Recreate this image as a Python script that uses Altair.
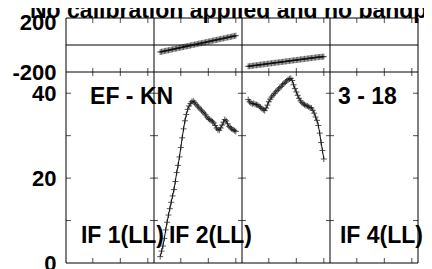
import altair as alt
import pandas as pd

# ---------------- data ----------------
channels = list(range(5, 61))  # channels plotted in IF 2 and IF 3 (64 channels per IF)

if2_amp = [1.5, 2.8, 4.0, 5.8, 7.8, 9.6, 11.3, 12.8,
           14.3, 15.8, 17.3, 19.2, 21.3, 23.0, 25.0, 27.2,
           29.5, 31.6, 33.5, 35.0, 36.2, 37.0, 37.6, 38.0,
           38.2, 37.8, 37.4, 37.0, 36.7, 36.3, 36.0, 35.6,
           35.3, 34.9, 34.4, 34.0, 33.8, 33.6, 33.3, 33.0,
           32.4, 31.8, 31.4, 31.3, 31.8, 32.5, 33.2, 33.8,
           33.5, 32.8, 32.2, 31.9, 31.6, 31.4, 31.2, 31.0]
if3_amp = [38.5, 38.0, 37.7, 37.5, 37.6, 37.4, 37.3, 37.2,
           36.9, 36.7, 36.4, 36.1, 35.9, 36.5, 37.2, 38.0,
           38.6, 39.1, 39.5, 39.9, 40.3, 40.6, 41.0, 41.3,
           41.6, 42.0, 42.3, 42.6, 42.9, 43.2, 43.4, 43.5,
           43.0, 42.0, 41.1, 40.3, 39.5, 38.8, 38.2, 37.8,
           37.5, 37.3, 37.1, 37.0, 36.8, 36.6, 36.5, 36.0,
           35.3, 34.4, 33.6, 32.4, 30.6, 28.4, 26.5, 24.5]
if2_phase = [-52, -50, -48, -45, -43, -41, -39, -37,
             -34, -32, -30, -28, -26, -23, -21, -19,
             -17, -15, -12, -10, -8, -6, -4, -1,
             1, 3, 5, 7, 10, 12, 14, 16,
             18, 21, 23, 25, 27, 29, 32, 34,
             36, 38, 40, 43, 45, 47, 49, 51,
             54, 56, 58, 60, 62, 65, 67, 69]
if3_phase = [-158, -157, -155, -154, -153, -151, -150, -149,
             -147, -146, -145, -143, -142, -141, -139, -138,
             -137, -135, -134, -133, -131, -130, -129, -127,
             -126, -125, -123, -122, -121, -119, -118, -117,
             -115, -114, -113, -111, -110, -109, -107, -106,
             -105, -103, -102, -101, -99, -98, -97, -95,
             -94, -93, -91, -90, -89, -88, -87, -86]

n_chan = 64
n_if = 4
if_bounds = [0.5 + i * n_chan for i in range(n_if + 1)]
chan_ticks = [20, 40, 60]
phase_labels = [200, -200]
amp_labels = [0, 20, 40]
amp_ticks = [10, 20, 30, 40]
title_text = "No calibration applied and no bandpass applied"
corner_labels = ["EF - KN", "3 - 18"]
corner_pos = [18, 198.3]
if_label_text = ["IF 1(LL)", "IF 2(LL)"]
if_label_if = [1, 2]
last_label_text = ["IF 4(LL)"]
last_label_if = [4]

# ---------------- tables ----------------
rows = []
for ifn, amps, phs in [(2, if2_amp, if2_phase), (3, if3_amp, if3_phase)]:
    for c, a, p in zip(channels, amps, phs):
        rows.append({"IF": ifn, "pos": (ifn - 1) * n_chan + c, "amp": a, "phase": p})
df = pd.DataFrame(rows)

FONT = "Liberation Sans"
FS = 23
W, H = 352, 245
TOP_H = 54
xs = alt.Scale(domain=[if_bounds[0], if_bounds[-1]], nice=False, zero=False)
ph_scale = alt.Scale(domain=[-200, 200], range=[TOP_H, 0], nice=False, zero=False)
am_scale = alt.Scale(domain=[0, 45], range=[H, TOP_H], nice=False, zero=False)
X = alt.X("pos:Q", scale=xs, axis=None)

plus = "M-1,0L1,0M0,-1L0,1"
INK = "#111111"

base = alt.Chart(df)
phase_line = base.mark_line(color=INK, strokeWidth=1).encode(
    x=X, detail="IF:N",
    y=alt.Y("phase:Q", scale=ph_scale,
            axis=alt.Axis(orient="left", values=phase_labels, title=None,
                          labelExpr="'' + datum.value",
                          labelOffset={"condition": {"test": "datum.value > 0", "value": 4}, "value": 0})))
phase_pts = base.mark_point(shape=plus, filled=False, color=INK, size=36, strokeWidth=1).encode(
    x=X, y=alt.Y("phase:Q", scale=ph_scale, axis=None))
amp_line = base.mark_line(color=INK, strokeWidth=1).encode(
    x=X, detail="IF:N",
    y=alt.Y("amp:Q", scale=am_scale,
            axis=alt.Axis(orient="left", values=amp_labels, title=None,
                          labelExpr="'' + datum.value")))
amp_pts = base.mark_point(shape=plus, filled=False, color=INK, size=36, strokeWidth=1).encode(
    x=X, y=alt.Y("amp:Q", scale=am_scale, axis=None))

# frames
vrules = alt.Chart(pd.DataFrame({"b": if_bounds})).mark_rule(color="black", strokeWidth=1).encode(
    x=alt.X("b:Q", scale=xs, axis=None))
hrules_ph = alt.Chart(pd.DataFrame({"v": [200, 0, -200]})).mark_rule(color="black", strokeWidth=1).encode(
    y=alt.Y("v:Q", scale=ph_scale, axis=None))
hrules_am = alt.Chart(pd.DataFrame({"v": [0]})).mark_rule(color="black", strokeWidth=1).encode(
    y=alt.Y("v:Q", scale=am_scale, axis=None))

# x ticks (inward)
xt = [(i * n_chan + c) for i in range(n_if) for c in chan_ticks]
xt_df = pd.DataFrame({"p": xt, "top": [200] * len(xt), "mid": [-200] * len(xt), "bot": [0] * len(xt)})
xtick_top = alt.Chart(xt_df).mark_tick(orient="vertical", size=5, thickness=1, color="black", yOffset=2.5).encode(
    x=alt.X("p:Q", scale=xs, axis=None), y=alt.Y("top:Q", scale=ph_scale, axis=None))
xtick_mid = alt.Chart(xt_df).mark_tick(orient="vertical", size=8, thickness=1, color="black").encode(
    x=alt.X("p:Q", scale=xs, axis=None), y=alt.Y("mid:Q", scale=ph_scale, axis=None))
xtick_bot = alt.Chart(xt_df).mark_tick(orient="vertical", size=5, thickness=1, color="black", yOffset=-2.5).encode(
    x=alt.X("p:Q", scale=xs, axis=None), y=alt.Y("bot:Q", scale=am_scale, axis=None))

# y ticks on panel boundaries
inner = pd.DataFrame([{"b": b, "v": v} for b in if_bounds[1:-1] for v in amp_ticks])
left = pd.DataFrame([{"b": if_bounds[0], "v": v} for v in amp_ticks])
right = pd.DataFrame([{"b": if_bounds[-1], "v": v} for v in amp_ticks])
ytick_in = alt.Chart(inner).mark_tick(orient="horizontal", size=8, thickness=1, color="black").encode(
    x=alt.X("b:Q", scale=xs, axis=None), y=alt.Y("v:Q", scale=am_scale, axis=None))
ytick_l = alt.Chart(left).mark_tick(orient="horizontal", size=5, thickness=1, color="black", xOffset=2.5).encode(
    x=alt.X("b:Q", scale=xs, axis=None), y=alt.Y("v:Q", scale=am_scale, axis=None))
ytick_r = alt.Chart(right).mark_tick(orient="horizontal", size=5, thickness=1, color="black", xOffset=-2.5).encode(
    x=alt.X("b:Q", scale=xs, axis=None), y=alt.Y("v:Q", scale=am_scale, axis=None))

# texts
txt = dict(baseline="alphabetic", font=FONT, fontSize=FS, fontWeight="bold", color="black")
corner = alt.Chart(pd.DataFrame({"t": corner_labels, "p": corner_pos})).mark_text(align="left", **txt).encode(
    x=alt.X("p:Q", scale=xs, axis=None), y=alt.value(86), text="t:N")
iflab = alt.Chart(pd.DataFrame({"t": if_label_text, "p": [n * n_chan + 0.5 for n in if_label_if]})).mark_text(
    align="right", dx=10, **txt).encode(
    x=alt.X("p:Q", scale=xs, axis=None), y=alt.value(225), text="t:N")
iflab4 = alt.Chart(pd.DataFrame({"t": last_label_text, "p": [n * n_chan + 0.5 for n in last_label_if]})).mark_text(
    align="right", dx=5, **txt).encode(
    x=alt.X("p:Q", scale=xs, axis=None), y=alt.value(225), text="t:N")
title = alt.Chart(pd.DataFrame({"t": [title_text]})).mark_text(align="left", **txt).encode(
    x=alt.value(-36), y=alt.value(0), text="t:N")

chart = alt.layer(
    vrules, hrules_ph, hrules_am,
    xtick_top, xtick_mid, xtick_bot, ytick_in, ytick_l, ytick_r,
    phase_line, phase_pts, amp_line, amp_pts,
    corner, iflab, iflab4, title,
).resolve_scale(y="independent").properties(
    width=W, height=H,
    autosize=alt.AutoSizeParams(type="none"),
    padding={"left": 58, "top": 10, "right": 6, "bottom": 10},
).configure_view(stroke=None).configure_axis(
    labelFont=FONT, labelFontSize=22, labelFontWeight="bold", labelColor="black",
    domain=False, ticks=False, tickSize=0, grid=False, labelPadding=10, labelOverlap=False,
)

chart.save("out.html", embed_options={"renderer": "svg", "actions": False})
